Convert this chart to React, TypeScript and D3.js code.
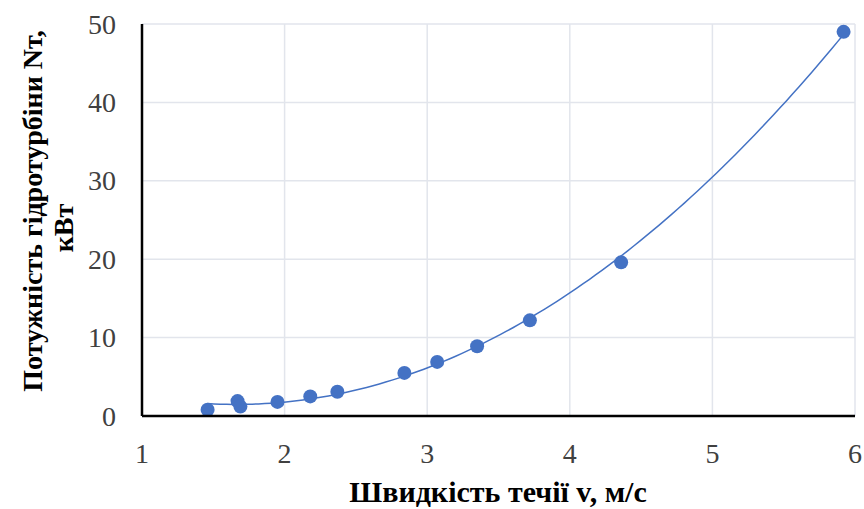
import * as d3 from 'd3';

// flow speed, m/s
const speed = [1.46, 1.67, 1.69, 1.95, 2.18, 2.37, 2.84, 3.07, 3.35, 3.72, 4.36, 5.92];
// turbine power, kW
const power = [0.8, 1.9, 1.2, 1.8, 2.5, 3.1, 5.5, 6.9, 8.9, 12.2, 19.6, 49.0];

const xTicks = [1, 2, 3, 4, 5, 6];
const yTicks = [0, 10, 20, 30, 40, 50];

const width = 864;
const height = 509;
const plot = { left: 142, right: 855, top: 24, bottom: 416 };

const blue = '#4472c4';
const serif = '"Liberation Serif", "Times New Roman", serif';

// least squares polynomial trend (order 2), like a spreadsheet trendline
function polyFit(xs: number[], ys: number[], order: number) {
    const n = order + 1;
    const m: number[][] = [];
    for (let r = 0; r < n; r++) {
        const row: number[] = [];
        for (let c = 0; c < n; c++) row.push(d3.sum(xs, x => Math.pow(x, r + c)));
        row.push(d3.sum(xs, (x, i) => Math.pow(x, r) * ys[i]));
        m.push(row);
    }
    for (let i = 0; i < n; i++) {
        for (let k = i + 1; k < n; k++) {
            const f = m[k][i] / m[i][i];
            for (let c = i; c <= n; c++) m[k][c] -= f * m[i][c];
        }
    }
    const coef = new Array(n).fill(0);
    for (let i = n - 1; i >= 0; i--) {
        let s = m[i][n];
        for (let c = i + 1; c < n; c++) s -= m[i][c] * coef[c];
        coef[i] = s / m[i][i];
    }
    return (x: number) => coef.reduce((acc, a, p) => acc + a * Math.pow(x, p), 0);
}

export default function App() {
    const x = d3.scaleLinear().domain([1, 6]).range([plot.left, plot.right]);
    const y = d3.scaleLinear().domain([0, 50]).range([plot.bottom, plot.top]);

    const trend = polyFit(speed, power, 2);
    const [x0, x1] = d3.extent(speed) as [number, number];
    const curvePts = d3.range(0, 101).map(i => {
        const v = x0 + (x1 - x0) * i / 100;
        return [v, trend(v)] as [number, number];
    });
    const line = d3.line<[number, number]>().x(d => x(d[0])).y(d => y(d[1]));

    return (
        <svg width={width} height={height} style={{ position: 'absolute', left: 0, top: 0, background: '#fff' }}>
            {/* grid */}
            {yTicks.filter(t => t > 0).map(t => (
                <line key={'gy' + t} x1={plot.left} x2={plot.right} y1={y(t)} y2={y(t)} stroke="#e2e5ec" strokeWidth={1.5} />
            ))}
            {xTicks.filter(t => t > 1).map(t => (
                <line key={'gx' + t} x1={x(t)} x2={x(t)} y1={plot.top} y2={plot.bottom} stroke="#e2e5ec" strokeWidth={1.5} />
            ))}

            {/* trendline + points */}
            <path d={line(curvePts) ?? ''} fill="none" stroke={blue} strokeWidth={1.5} />
            {speed.map((s, i) => (
                <circle key={i} cx={x(s)} cy={y(power[i])} r={7} fill={blue} />
            ))}

            {/* axes */}
            <line x1={plot.left} x2={plot.left} y1={plot.top} y2={plot.bottom} stroke="#000" strokeWidth={2.5} />
            <line x1={plot.left} x2={plot.right} y1={plot.bottom} y2={plot.bottom} stroke="#000" strokeWidth={2.5} />

            {/* tick labels */}
            {yTicks.map(t => (
                <text key={'ty' + t} x={116} y={y(t)} dy="0.34em" textAnchor="end"
                    fontFamily={serif} fontSize={28} fill="#404040">{t}</text>
            ))}
            {xTicks.map(t => (
                <text key={'tx' + t} x={x(t)} y={463} textAnchor="middle"
                    fontFamily={serif} fontSize={28} fill="#404040">{t}</text>
            ))}

            {/* axis titles */}
            <text x={498} y={502} textAnchor="middle" fontFamily={serif} fontSize={30} fontWeight="bold">
                Швидкість течії v, м/с
            </text>
            <text transform="translate(42,211) rotate(-90)" textAnchor="middle" fontFamily={serif} fontSize={28} fontWeight="bold">
                Потужність гідротурбіни Nт,
            </text>
            <text transform="translate(73,228) rotate(-90)" textAnchor="middle" fontFamily={serif} fontSize={28} fontWeight="bold">
                кВт
            </text>
        </svg>
    );
}
